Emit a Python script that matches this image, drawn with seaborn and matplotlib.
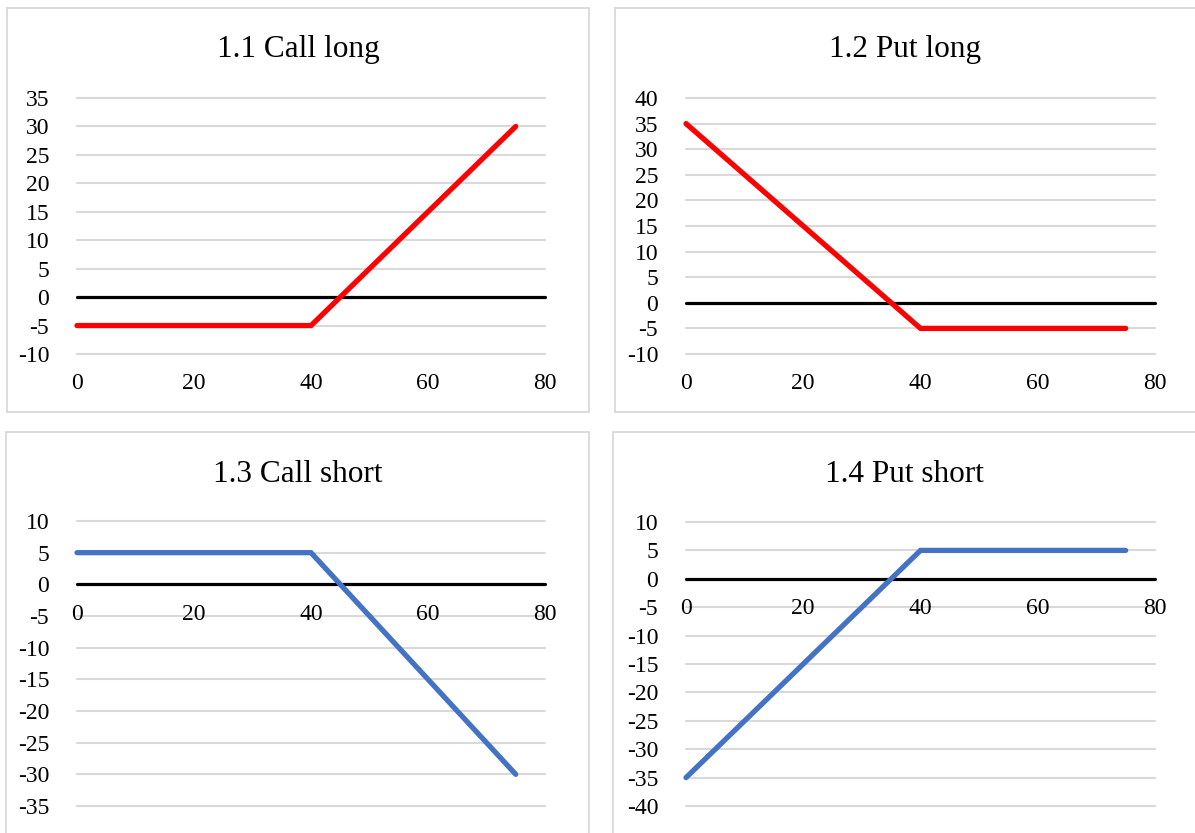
import matplotlib
matplotlib.use("Agg")
import matplotlib.pyplot as plt
from matplotlib.patches import Rectangle
import seaborn as sns
import pandas as pd

# Underlying price at expiry and the payoff of each option position
price = [0, 40, 75]
call_long = [-5, -5, 30]
put_long = [35, -5, -5]
call_short = [5, 5, -30]
put_short = [-35, 5, 5]

titles = ["1.1 Call long", "1.2 Put long", "1.3 Call short", "1.4 Put short"]
x_ticks = [0, 20, 40, 60, 80]
y_ticks_11 = [-10, -5, 0, 5, 10, 15, 20, 25, 30, 35]
y_ticks_12 = [-10, -5, 0, 5, 10, 15, 20, 25, 30, 35, 40]
y_ticks_13 = [-35, -30, -25, -20, -15, -10, -5, 0, 5, 10]
y_ticks_14 = [-40, -35, -30, -25, -20, -15, -10, -5, 0, 5, 10]

RED = "#FF0000"
BLUE = "#4472C4"
GRID = "#D9D9D9"

sns.set_style("white")
plt.rcParams["font.family"] = ["Liberation Serif", "DejaVu Serif"]

W, H = 1195, 833
fig = plt.figure(figsize=(W / 100, H / 100), dpi=100)


def px_box(x0, y0, x1, y1):
    """Convert a pixel box (top-left origin) to figure fractions."""
    return [x0 / W, 1 - y1 / H, (x1 - x0) / W, (y1 - y0) / H]


panels = [
    # chart frame, plot area, data, ticks, colour, x-axis label baseline
    dict(frame=(7, 8, 589, 412), area=(77, 98, 545, 354), y=call_long,
         yt=y_ticks_11, color=RED, xaxis_at=-10),
    dict(frame=(615, 8, 1196, 412), area=(686, 98, 1155, 354), y=put_long,
         yt=y_ticks_12, color=RED, xaxis_at=-10),
    dict(frame=(6, 432, 589, 840), area=(77, 521, 545, 806), y=call_short,
         yt=y_ticks_13, color=BLUE, xaxis_at=0),
    dict(frame=(613, 432, 1196, 840), area=(686, 522, 1155, 806), y=put_short,
         yt=y_ticks_14, color=BLUE, xaxis_at=0),
]

for p, title in zip(panels, titles):
    fx0, fy0, fx1, fy1 = p["frame"]
    fig.patches.append(Rectangle((fx0 / W, 1 - fy1 / H), (fx1 - fx0) / W,
                                 (fy1 - fy0) / H, transform=fig.transFigure,
                                 facecolor="none", edgecolor=GRID,
                                 linewidth=1.3, zorder=-1))
    fig.text((fx0 + fx1) / 2 / W, 1 - (fy0 + 42) / H, title,
             ha="center", va="center", fontsize=22.5, color="black")

    ax = fig.add_axes(px_box(*p["area"]))
    ax.set_facecolor("none")
    ax.set_axisbelow(False)
    yt = p["yt"]

    for v in yt:
        if v != 0:
            ax.axhline(v, color=GRID, linewidth=1.5, zorder=1, clip_on=False)
    ax.axhline(0, color="black", linewidth=2.3, zorder=2, clip_on=False)

    df = pd.DataFrame({"price": price, "payoff": p["y"]})
    sns.lineplot(data=df, x="price", y="payoff", ax=ax, color=p["color"],
                 linewidth=3.8, solid_capstyle="round", solid_joinstyle="miter",
                 zorder=3, clip_on=False)
    ax.set_xlabel("")
    ax.set_ylabel("")
    ax.set_xlim(0, 80)
    ax.set_ylim(yt[0], yt[-1])
    ax.set_xticks(x_ticks)
    ax.set_xticklabels([str(v) for v in x_ticks])
    ax.set_yticks(yt)
    ax.set_yticklabels([str(v) for v in yt])

    for side in ["top", "right", "left"]:
        ax.spines[side].set_visible(False)
    ax.spines["bottom"].set_position(("data", p["xaxis_at"]))
    ax.spines["bottom"].set_visible(False)
    ax.tick_params(axis="both", length=0, labelsize=17, colors="black")
    ax.tick_params(axis="y", pad=20)
    ax.tick_params(axis="x", pad=14)

fig.savefig("out.png", dpi=100, facecolor="white")
